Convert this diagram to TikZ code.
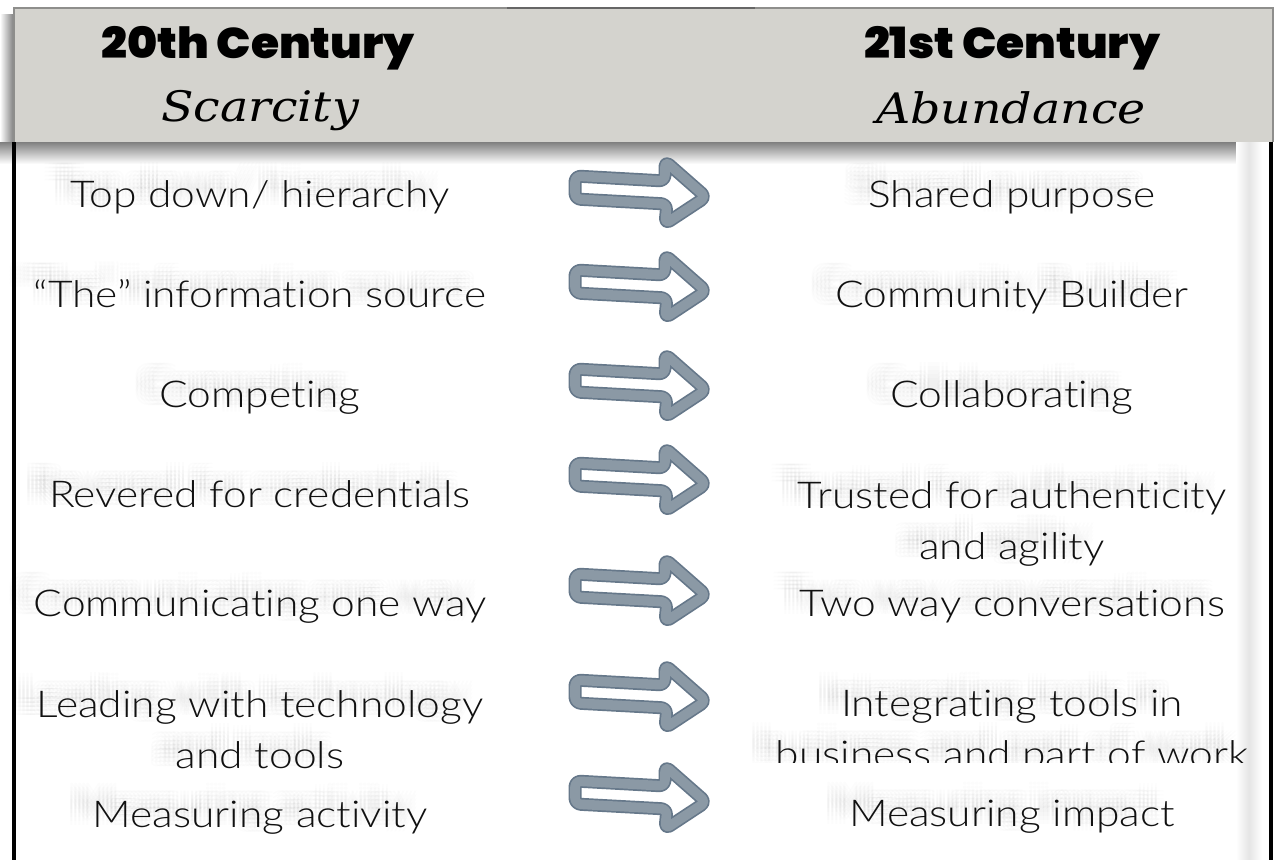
\documentclass[tikz,border=0pt]{standalone}
\usepackage{fontspec}
\setmainfont{Lato}[UprightFont=* Light, Ligatures=NoCommon, FakeStretch=1.15]
\newfontfamily\headfont{Poppins}[UprightFont=* Black, FakeStretch=1.06]
\newfontfamily\subfont{DejaVu Serif}[ItalicFeatures={FakeStretch=1.13}]
\usetikzlibrary{calc}

\definecolor{headfill}{HTML}{D4D3CE}
\definecolor{headedge}{HTML}{8E8E8C}
\definecolor{arrowfill}{HTML}{8B99A5}
\definecolor{arrowedge}{HTML}{66788A}
\definecolor{inktext}{HTML}{111111}

% two-line cell whose reference point is the first baseline
\newcommand{\twoline}[2]{\begin{tabular}[t]{@{}c@{}}#1\\#2\end{tabular}}

\tikzset{
  x=1pt, y=-1pt,
  headline/.style={anchor=base, inner sep=0pt, font=\headfont\fontsize{43}{48}\selectfont, text=black},
  subline/.style={anchor=base, inner sep=0pt, font=\subfont\itshape\fontsize{42}{48}\selectfont, text=black},
  entry/.style={anchor=base, inner sep=0pt, font=\fontsize{37}{51}\selectfont, text=inktext},
  ghost/.style={anchor=base, inner sep=0pt, font=\fontsize{37}{51}\selectfont, text=black, opacity=0.013},
  bigarrow/.pic={
    \def\arrowpath{(-65,-16) -- (25,-11) -- (25,-31) -- (66,5) -- (25,32) -- (27,12) -- (-65,7) -- cycle}
    \fill[white] \arrowpath;
    \draw[arrowedge, line width=13, rounded corners=6, line join=round] \arrowpath;
    \draw[arrowfill, line width=9.6, rounded corners=6, line join=round] \arrowpath;
  }
}

% soft blurred shadow of an entry: faint copies spread around an offset
\newcommand{\softshadow}[2]{%
  \foreach \dx in {-8,-4,0,4,8}{\foreach \dy in {-8,-4,0,4,8}{%
    \node[ghost] at ($(#1)+(\dx-18,\dy-10)$) {#2};}}}

\begin{document}
\begin{tikzpicture}
\useasboundingbox (0,0) rectangle (1278,860);
\fill[white] (0,0) rectangle (1278,860);

% header shadows
\shade[left color=white, right color=black!55] (0,14) rectangle (15,150);
\shade[top color=black!50, bottom color=white] (0,142) rectangle (1250,164);
\shade[left color=white, right color=white, middle color=black!10] (1236,142) rectangle (1262,860);

% header band
\fill[headfill] (14,8) rectangle (1273,142);
\draw[headedge, line width=1.5] (14,142) -- (14,8) -- (1273,8) -- (1273,142);
\draw[black!60, line width=2.5] (507,8) -- (755,8);

% column rules
\draw[black, line width=3.5] (14,142) -- (14,860);
\draw[black, line width=4] (1271,142) -- (1271,860);

% column headings
\node[headline] (h20) at (258,58) {20th Century};
\node[subline] (s20) at (260,121) {Scarcity};
\node[headline] (h21) at (1012,58) {21st Century};
\node[subline] (s21) at (1011,123) {Abundance};

% row anchors
\coordinate (l1) at (260,207);  \coordinate (r1) at (1012,207);
\coordinate (l2) at (260,307);  \coordinate (r2) at (1012,307);
\coordinate (l3) at (260,407);  \coordinate (r3) at (1012,407);
\coordinate (l4) at (260,507);  \coordinate (r4) at (1012,508);
\coordinate (l5) at (260,616);  \coordinate (r5) at (1012,616);
\coordinate (l6) at (260,717);  \coordinate (r6) at (1012,716);
\coordinate (l7) at (260,827);  \coordinate (r7) at (1012,826);

% blurred shadows under the entries
\softshadow{l1}{Top down/ hierarchy}
\softshadow{l2}{“The” information source}
\softshadow{l3}{Competing}
\softshadow{l4}{Revered for credentials}
\softshadow{l5}{Communicating one way}
\softshadow{l6}{\twoline{Leading with technology}{and tools}}
\softshadow{l7}{Measuring activity}
\softshadow{r1}{Shared purpose}
\softshadow{r2}{Community Builder}
\softshadow{r3}{Collaborating}
\softshadow{r4}{\twoline{Trusted for authenticity}{and agility}}
\softshadow{r5}{Two way conversations}
\softshadow{r7}{Measuring impact}
\begin{scope}
  \clip (700,150) rectangle (1265,762);
  \softshadow{r6}{\twoline{Integrating tools in}{business and part of work}}
\end{scope}

% left column
\node[entry] (old1) at (l1) {Top down/ hierarchy};
\node[entry] (old2) at (l2) {“The” information source};
\node[entry] (old3) at (l3) {Competing};
\node[entry] (old4) at (l4) {Revered for credentials};
\node[entry] (old5) at (l5) {Communicating one way};
\node[entry] (old6) at (l6) {\twoline{Leading with technology}{and tools}};
\node[entry] (old7) at (l7) {Measuring activity};

% right column
\node[entry] (new1) at (r1) {Shared purpose};
\node[entry] (new2) at (r2) {Community Builder};
\node[entry] (new3) at (r3) {Collaborating};
\node[entry] (new4) at (r4) {\twoline{Trusted for authenticity}{and agility}};
\node[entry] (new5) at (r5) {Two way conversations};
\begin{scope}
  \clip (700,150) rectangle (1265,762);
  \node[entry] (new6) at (r6) {\twoline{Integrating tools in}{business and part of work}};
\end{scope}
\node[entry] (new7) at (r7) {Measuring impact};

% transition arrows
\pic (arr1) at (640,192) {bigarrow};
\pic (arr2) at (640,286) {bigarrow};
\pic (arr3) at (640,385) {bigarrow};
\pic (arr4) at (640,479) {bigarrow};
\pic (arr5) at (640,590) {bigarrow};
\pic (arr6) at (640,696) {bigarrow};
\pic (arr7) at (640,797) {bigarrow};
\end{tikzpicture}
\end{document}
